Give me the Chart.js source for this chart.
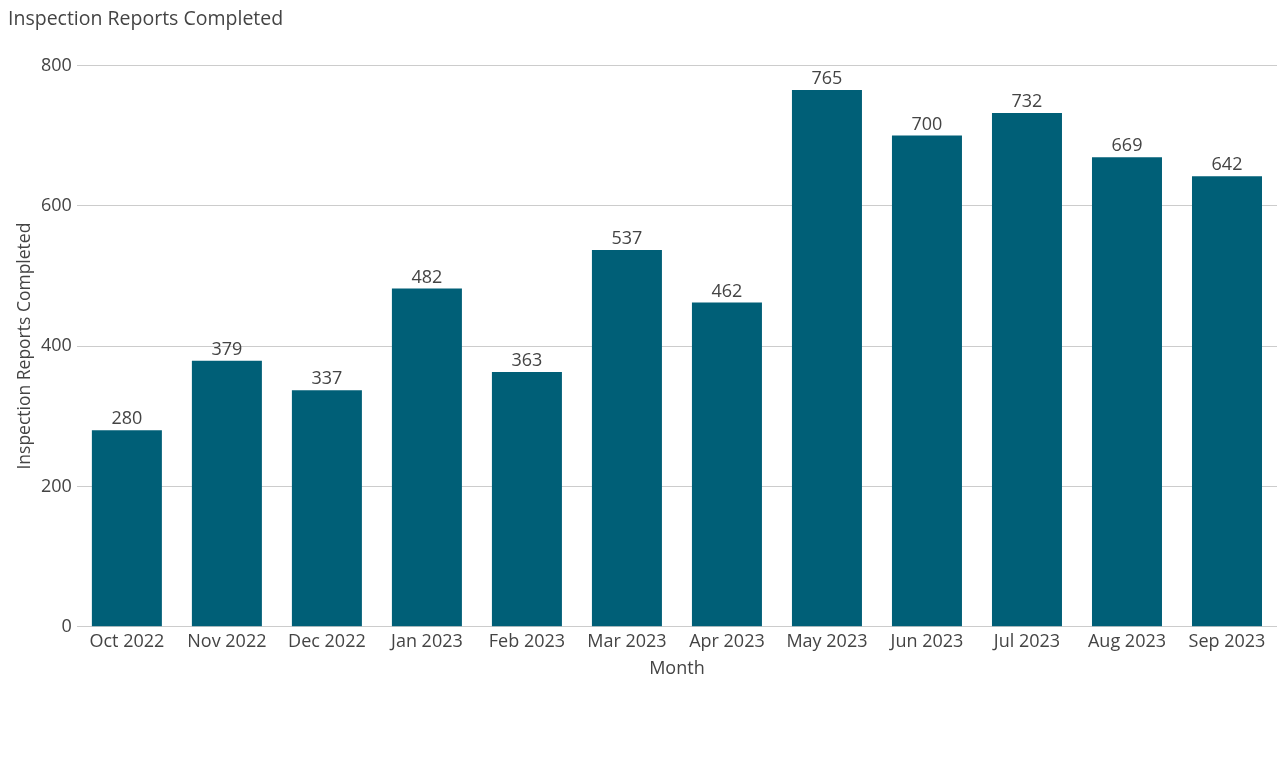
<!DOCTYPE html>
<html>
<head>
<meta charset="utf-8">
<script src="https://cdn.jsdelivr.net/npm/chart.js@4.4.1/dist/chart.umd.min.js"></script>
<style>
    html, body { margin: 0; padding: 0; background: #fff; }
    #wrap { width: 1285px; height: 763px; }
</style>
</head>
<body>
<div id="wrap"><canvas id="reportsChart"></canvas></div>
<script>
const months = ["Oct 2022", "Nov 2022", "Dec 2022", "Jan 2023", "Feb 2023", "Mar 2023",
    "Apr 2023", "May 2023", "Jun 2023", "Jul 2023", "Aug 2023", "Sep 2023"];
const reportsCompleted = [280, 379, 337, 482, 363, 537, 462, 765, 700, 732, 669, 642];
const yTicks = [0, 200, 400, 600, 800];

const textColor = "#444";
const fontFamily = "'Open Sans', sans-serif";

// value labels above each bar
const barLabels = {
    id: "barLabels",
    afterDatasetsDraw(chart) {
        const ctx = chart.ctx;
        const meta = chart.getDatasetMeta(0);
        ctx.save();
        ctx.font = "18px " + fontFamily;
        ctx.fillStyle = textColor;
        ctx.textAlign = "center";
        ctx.textBaseline = "bottom";
        meta.data.forEach(function (bar, i) {
            ctx.fillText(reportsCompleted[i], bar.x, bar.y - 2);
        });
        ctx.restore();
    },
};

const ctx = document.getElementById("reportsChart").getContext("2d");
new Chart(ctx, {
    type: "bar",
    data: {
        labels: months,
        datasets: [
            {
                label: "Inspection Reports Completed",
                data: reportsCompleted,
                backgroundColor: "#005f77",
                barPercentage: 0.7,
                categoryPercentage: 1.0,
            },
        ],
    },
    options: {
        responsive: true,
        maintainAspectRatio: false,
        animation: false,
        layout: { padding: { left: 8, right: 8, top: 0, bottom: 83 } },
        plugins: {
            legend: { display: false },
            tooltip: { enabled: false },
            title: {
                display: true,
                text: "Inspection Reports Completed",
                align: "start",
                color: textColor,
                font: { family: fontFamily, size: 19.5, weight: "normal" },
                padding: { top: 8, bottom: 34 },
            },
        },
        scales: {
            x: {
                grid: { display: false, drawTicks: false },
                border: { display: false },
                ticks: {
                    color: textColor,
                    font: { family: fontFamily, size: 18 },
                    padding: 4,
                    maxRotation: 0,
                },
                title: {
                    display: true,
                    text: "Month",
                    color: textColor,
                    font: { family: fontFamily, size: 18 },
                    padding: { top: 2, bottom: 0 },
                },
            },
            y: {
                min: 0,
                max: 800,
                afterBuildTicks(scale) {
                    scale.ticks = yTicks.map(function (v) { return { value: v }; });
                },
                grid: { color: "#cccccc", drawTicks: false },
                border: { display: false },
                ticks: {
                    color: textColor,
                    font: { family: fontFamily, size: 18 },
                    padding: 5,
                },
                title: {
                    display: true,
                    text: "Inspection Reports Completed",
                    color: textColor,
                    font: { family: fontFamily, size: 17.5 },
                    padding: { top: 7, bottom: 0 },
                },
            },
        },
    },
    plugins: [barLabels],
});
</script>
</body>
</html>
